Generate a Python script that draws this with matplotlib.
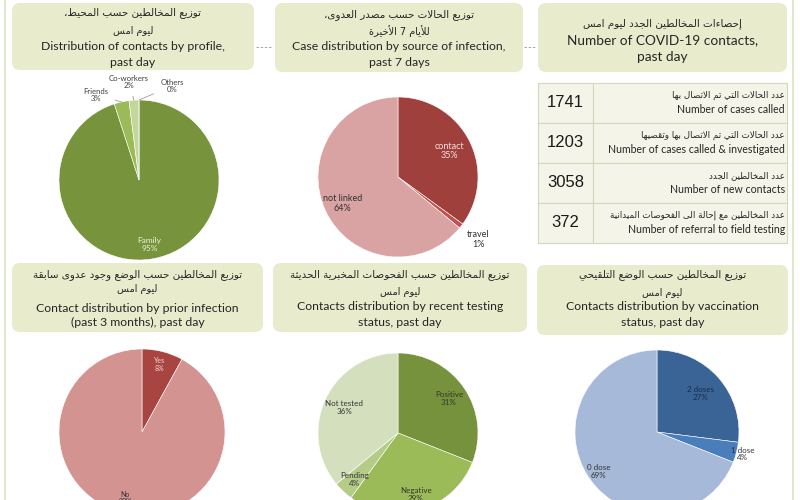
import matplotlib
matplotlib.use("Agg")
import matplotlib.pyplot as plt
from matplotlib.patches import FancyBboxPatch, Rectangle
import numpy as np

# ---- data ----
profile_labels = ["Family", "Friends", "Co-workers", "Others"]
profile_pct = [95, 3, 2, 0]

source_labels = ["contact", "travel", "not linked"]
source_pct = [35, 1, 64]

prior_labels = ["Yes", "No"]
prior_pct = [8, 92]

testing_labels = ["Positive", "Negative", "Pending", "Not tested"]
testing_pct = [31, 29, 4, 36]

vacc_labels = ["2 doses", "1 dose", "0 dose"]
vacc_pct = [27, 4, 69]

table_values = [1741, 1203, 3058, 372]
table_en = ["Number of cases called", "Number of cases called & investigated",
            "Number of new contacts", "Number of referral to field testing"]
table_ar = ["عدد الحالات التي تم الاتصال بها", "عدد الحالات التي تم الاتصال بها وتقصيها",
            "عدد المخالطين الجدد", "عدد المخالطين مع إحالة الى الفحوصات الميدانية"]

titles = [
    ("توزيع المخالطين حسب المحيط،", "ليوم امس", "Distribution of contacts by profile,", "past day"),
    ("توزيع الحالات حسب مصدر العدوى،", "للأيام 7 الأخيرة", "Case distribution by source of infection,", "past 7 days"),
    ("إحصاءات المخالطين الجدد ليوم امس", None, "Number of COVID-19 contacts,", "past day"),
    ("توزيع المخالطين حسب الوضع وجود عدوى سابقة", "ليوم امس", "Contact distribution by prior infection", "(past 3 months), past day"),
    ("توزيع المخالطين حسب الفحوصات المخبرية الحديثة", "ليوم امس", "Contacts distribution by recent testing", "status, past day"),
    ("توزيع المخالطين حسب الوضع التلقيحي", "ليوم امس", "Contacts distribution by vaccination", "status, past day"),
]

# ---- minimal arabic shaping (presentation forms + RTL order) ----
FORMS = {'ء': (0xFE80, 1), 'آ': (0xFE81, 2), 'أ': (0xFE83, 2), 'ؤ': (0xFE85, 2),
         'إ': (0xFE87, 2), 'ئ': (0xFE89, 4), 'ا': (0xFE8D, 2), 'ب': (0xFE8F, 4),
         'ة': (0xFE93, 2), 'ت': (0xFE95, 4), 'ث': (0xFE99, 4), 'ج': (0xFE9D, 4),
         'ح': (0xFEA1, 4), 'خ': (0xFEA5, 4), 'د': (0xFEA9, 2), 'ذ': (0xFEAB, 2),
         'ر': (0xFEAD, 2), 'ز': (0xFEAF, 2), 'س': (0xFEB1, 4), 'ش': (0xFEB5, 4),
         'ص': (0xFEB9, 4), 'ض': (0xFEBD, 4), 'ط': (0xFEC1, 4), 'ظ': (0xFEC5, 4),
         'ع': (0xFEC9, 4), 'غ': (0xFECD, 4), 'ف': (0xFED1, 4), 'ق': (0xFED5, 4),
         'ك': (0xFED9, 4), 'ل': (0xFEDD, 4), 'م': (0xFEE1, 4), 'ن': (0xFEE5, 4),
         'ه': (0xFEE9, 4), 'و': (0xFEED, 2), 'ى': (0xFEEF, 2), 'ي': (0xFEF1, 4)}
LAM_ALEF = {'آ': 0xFEF5, 'أ': 0xFEF7, 'إ': 0xFEF9, 'ا': 0xFEFB}


def shape(s):
    # merge lam-alef into single tokens
    toks = []
    i = 0
    while i < len(s):
        if s[i] == 'ل' and i + 1 < len(s) and s[i + 1] in LAM_ALEF:
            toks.append(('LA', LAM_ALEF[s[i + 1]]))
            i += 2
        else:
            toks.append(('C', s[i]))
            i += 1

    def nforms(t):
        if t[0] == 'LA':
            return 2
        return FORMS[t[1]][1] if t[1] in FORMS else 0

    out = []
    for k, t in enumerate(toks):
        n = nforms(t)
        if n == 0:
            out.append(t[1])
            continue
        prev_j = k > 0 and nforms(toks[k - 1]) == 4
        next_j = n == 4 and k + 1 < len(toks) and nforms(toks[k + 1]) >= 2
        base = t[1] if t[0] == 'LA' else FORMS[t[1]][0]
        if n == 1:
            off = 0
        elif prev_j and next_j:
            off = 3
        elif prev_j:
            off = 1
        elif next_j:
            off = 2
        else:
            off = 0
        out.append(chr(base + off))
    return "".join(out)[::-1]


EN = ["Lato", "DejaVu Sans"]
AR = ["DejaVu Sans"]
TXT = "#262626"

fig = plt.figure(figsize=(8, 5), dpi=100)
ax = fig.add_axes([0, 0, 1, 1])
ax.set_xlim(0, 800)
ax.set_ylim(0, 500)
ax.axis("off")


def Y(py):
    return 500 - py


# page borders
ax.plot([5, 5], [0, 500], color="#D7E4BD", lw=1.2)
ax.plot([793, 793], [0, 500], color="#D7E4BD", lw=1.2)
for x0, x1 in [(256, 272), (524, 536)]:
    ax.plot([x0, x1], [Y(47), Y(47)], color="#9a9a9a", lw=0.6, ls=(0, (3, 2)))

# title boxes
boxes = [(12, 3, 254, 70), (275, 3, 523, 72), (538, 3, 787, 72),
         (12, 263, 263, 332), (273, 263, 527, 332), (537, 265, 788, 335)]
text_y = [(13, 31, 46, 63), (15, 31, 46, 62), (24, None, 40, 57),
          (275, 289, 308, 322), (275, 292, 307, 323), (275, 293, 307, 323)]
for (x0, y0, x1, y1), ty, tt in zip(boxes, text_y, titles):
    ax.add_patch(FancyBboxPatch((x0 + 8, Y(y1) + 8), x1 - x0 - 16, y1 - y0 - 16,
                                boxstyle="round,pad=8", fc="#E9EBCD", ec="none"))
    cx = (x0 + x1) / 2
    ax.text(cx, Y(ty[0]), shape(tt[0]), family=AR, fontsize=7.5, ha="center",
            va="center", color=TXT)
    if tt[1]:
        ax.text(cx, Y(ty[1]), shape(tt[1]), family=AR, fontsize=7, ha="center",
                va="center", color=TXT)
    fs = 9.8 if tt[1] is None else 8.8
    ax.text(cx, Y(ty[2]), tt[2], family=EN, fontsize=fs, ha="center", va="center", color=TXT)
    ax.text(cx, Y(ty[3]), tt[3], family=EN, fontsize=fs, ha="center", va="center", color=TXT)

# stats table
tx0, tx1, tsplit = 538, 787, 593
row_top = [83, 123, 163, 203]
row_h = 39.5
for i, (v, en, ar) in enumerate(zip(table_values, table_en, table_ar)):
    top = row_top[i]
    ax.add_patch(Rectangle((tx0, Y(top + row_h)), tsplit - tx0, row_h,
                           fc="#F4F5E8", ec="#D3D7BD", lw=0.8))
    ax.add_patch(Rectangle((tsplit, Y(top + row_h)), tx1 - tsplit, row_h,
                           fc="#F4F5E8", ec="#D3D7BD", lw=0.8))
    cy = top + row_h / 2
    ax.text((tx0 + tsplit) / 2, Y(cy), str(v), family=["Liberation Sans"], fontsize=12,
            ha="center", va="center", color="#1a1a1a")
    ax.text(785, Y(cy - 7), shape(ar), family=AR, fontsize=6.3, ha="right",
            va="center", color=TXT)
    ax.text(785, Y(cy + 7), en, family=EN, fontsize=7.6, ha="right", va="center", color=TXT)


def draw_pie(values, colors, cx, cy, r, dists, labels, tcolors, fs=6):
    wedges, _ = ax.pie(values, colors=colors, startangle=90, counterclock=False,
                       center=(cx, Y(cy)), radius=r, frame=True,
                       wedgeprops=dict(edgecolor="white", linewidth=0.4))
    for w, d, lab, v, tc in zip(wedges, dists, labels, values, tcolors):
        if d is None:
            continue
        a = np.deg2rad((w.theta1 + w.theta2) / 2)
        ax.text(cx + d * r * np.cos(a), Y(cy) + d * r * np.sin(a), f"{lab}\n{v}%",
                family=EN, fontsize=fs, ha="center", va="center", color=tc,
                linespacing=1.1)
    return wedges


# pie 1 - profile
w1 = draw_pie(profile_pct, ["#77933C", "#9BBB59", "#C3D69B", "#D7E4BD"], 139, 180, 80,
              [0.82, None, None, None], profile_labels, ["#eef2e0"] * 4)
for w, lab, v, off in zip(w1[1:], profile_labels[1:], profile_pct[1:],
                          [(-26, 7), (-5, 18), (33, 14)]):
    a = np.deg2rad((w.theta1 + w.theta2) / 2)
    ex, ey = 139 + 80 * np.cos(a), Y(180) + 80 * np.sin(a)
    ax.annotate(f"{lab}\n{v}%", xy=(ex, ey), xytext=(ex + off[0], ey + off[1]),
                family=EN, fontsize=5.6, ha="center", va="center", color="#404040",
                linespacing=1.1,
                arrowprops=dict(arrowstyle="-", color="#8a8a8a", lw=0.5, shrinkA=3, shrinkB=0))

# pie 2 - source of infection
draw_pie(source_pct, ["#A0403D", "#C0504D", "#DAA3A3"], 398, 177, 80,
         [0.72, 1.27, 0.77], source_labels, ["#f6dede", "#333333", "#333333"], fs=6.5)

# pie 4 - prior infection
draw_pie(prior_pct, ["#A94541", "#D39391"], 142, 432, 83,
         [0.84, 0.82], prior_labels, ["#f3dada", "#333333"], fs=5)

# pie 5 - testing
draw_pie(testing_pct, ["#76923C", "#9BBB59", "#B5CB88", "#D4DFBE"], 398, 433, 80,
         [0.77, 0.8, 0.8, 0.74], testing_labels, ["#333333"] * 4, fs=5.8)

# pie 6 - vaccination
draw_pie(vacc_pct, ["#3B6496", "#4A7EBB", "#A7B9D8"], 657, 432, 82,
         [0.71, 1.08, 0.86], vacc_labels, ["#1a2a4a", "#333333", "#333333"], fs=5.8)

ax.set_xlim(0, 800)
ax.set_ylim(0, 500)
ax.set_aspect("auto")
ax.axis("off")

fig.savefig("out.png", dpi=100, facecolor="white")
